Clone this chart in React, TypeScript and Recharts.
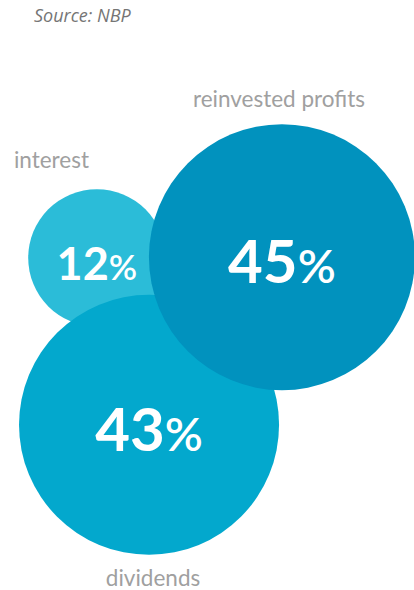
import { ScatterChart, Scatter, XAxis, YAxis, ZAxis, Cell } from 'recharts'

const categories = ['interest', 'dividends', 'reinvested profits']
const shares = [12, 43, 45]
// bubble centres on a 0–100 layout grid
const posX = [23.4, 36.0, 68.1]
const posY = [56.3, 28.0, 56.4]

const COLORS = ['#2bbcd8', '#03a8cd', '#0192be']
const LABEL_SIDE = ['above-left', 'below', 'above']
const FONT = 'Lato, "Noto Sans", sans-serif'
const MAX_R = 133

const data = categories.map((name, i) => ({ name, value: shares[i], x: posX[i], y: posY[i], side: LABEL_SIDE[i] }))

function Bubble(props: any) {
  const { cx, cy, width, payload, fill } = props
  const r = width / 2
  const big = r > 100
  const digitSize = big ? 60 : 45
  const pctSize = big ? 47 : 35
  const base = big ? 26 : 22

  let label = null
  if (payload.side === 'above') {
    label = <text x={cx - 3} y={cy - r - 17} textAnchor="middle">{payload.name}</text>
  } else if (payload.side === 'above-left') {
    label = <text x={cx - 83} y={cy - r - 21} textAnchor="start">{payload.name}</text>
  } else {
    label = <text x={cx + 4} y={cy + r + 31} textAnchor="middle">{payload.name}</text>
  }

  return (
    <g>
      <circle cx={cx} cy={cy} r={r} fill={fill} />
      <text x={cx} y={cy + base} textAnchor="middle" fill="#fff" fontFamily={FONT}>
        <tspan fontSize={digitSize} fontWeight={700}>{payload.value}</tspan>
        <tspan fontSize={pctSize} fontWeight={600}>%</tspan>
      </text>
      <g fill="#a0a0a0" fontSize={22.5} fontFamily={FONT} fontWeight={400}>
        {label}
      </g>
    </g>
  )
}

export default function App() {
  return (
    <div style={{ position: 'absolute', left: 0, top: 0, width: 414, height: 590, background: '#fff', overflow: 'hidden' }}>
      <div
        style={{
          position: 'absolute',
          left: 34,
          top: 3,
          fontFamily: '"Open Sans", sans-serif',
          fontStyle: 'italic',
          fontWeight: 400,
          fontSize: 18,
          color: '#757575',
        }}
      >
        Source: NBP
      </div>
      <ScatterChart width={414} height={590} margin={{ top: 0, right: 0, bottom: 0, left: 0 }}>
        <XAxis type="number" dataKey="x" domain={[0, 100]} hide />
        <YAxis type="number" dataKey="y" domain={[0, 100]} hide />
        <ZAxis type="number" dataKey="value" domain={[0, 45]} range={[0, Math.PI * MAX_R * MAX_R]} />
        <Scatter data={data} shape={Bubble} isAnimationActive={false}>
          {data.map((_, i) => (
            <Cell key={i} fill={COLORS[i]} />
          ))}
        </Scatter>
      </ScatterChart>
    </div>
  )
}
